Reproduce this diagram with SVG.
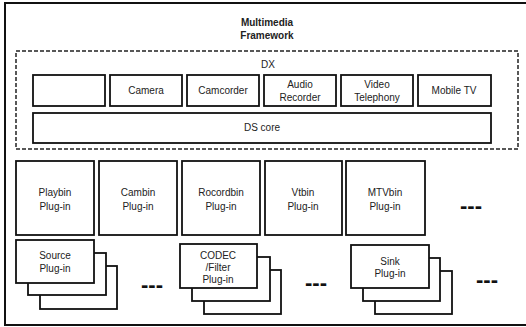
<svg xmlns="http://www.w3.org/2000/svg" width="526" height="327" viewBox="0 0 526 327">
  <style>
    .box { fill: #fff; stroke: #111; stroke-width: 1.8; }
    .frame { fill: none; stroke: #111; stroke-width: 2; }
    .dash { fill: none; stroke: #222; stroke-width: 1.5; stroke-dasharray: 4 2; }
    text { font-family: "Liberation Sans", Arial, sans-serif; font-size: 10px; fill: #222; text-anchor: middle; }
    .title { font-weight: bold; }
    .more { font-weight: bold; font-size: 22px; fill: #111; }
  </style>

  <!-- outer framework border (open on the right) -->
  <path class="frame" d="M526 3 H5 V325 H526"/>

  <g id="title">
    <text class="title" x="267" y="26">Multimedia</text>
    <text class="title" x="267" y="39">Framework</text>
  </g>

  <!-- DX layer -->
  <g id="dx">
    <rect class="dash" x="16" y="51" width="502" height="98"/>
    <text x="268" y="68">DX</text>
  </g>

  <g id="dx-blank"><rect class="box" x="33" y="75" width="72" height="31"/></g>
  <g id="dx-camera"><rect class="box" x="110" y="75" width="72" height="31"/><text x="146" y="94">Camera</text></g>
  <g id="dx-camcorder"><rect class="box" x="187" y="75" width="72" height="31"/><text x="223" y="94">Camcorder</text></g>
  <g id="dx-audio"><rect class="box" x="264" y="75" width="72" height="31"/><text x="300" y="88">Audio</text><text x="300" y="101">Recorder</text></g>
  <g id="dx-video"><rect class="box" x="341" y="75" width="72" height="31"/><text x="377" y="88">Video</text><text x="377" y="101">Telephony</text></g>
  <g id="dx-mobiletv"><rect class="box" x="418" y="75" width="73" height="31"/><text x="454" y="94">Mobile TV</text></g>
  <g id="ds-core"><rect class="box" x="33" y="113" width="458" height="30"/><text x="262" y="131">DS core</text></g>

  <!-- bin plug-ins -->
  <g id="playbin"><rect class="box" x="16" y="161" width="78" height="74"/><text x="55" y="196">Playbin</text><text x="55" y="210">Plug-in</text></g>
  <g id="cambin"><rect class="box" x="99" y="161" width="78" height="74"/><text x="138" y="196">Cambin</text><text x="138" y="210">Plug-in</text></g>
  <g id="rocordbin"><rect class="box" x="182" y="161" width="78" height="74"/><text x="221" y="196">Rocordbin</text><text x="221" y="210">Plug-in</text></g>
  <g id="vtbin"><rect class="box" x="265" y="161" width="77" height="74"/><text x="303" y="196">Vtbin</text><text x="303" y="210">Plug-in</text></g>
  <g id="mtvbin"><rect class="box" x="346" y="161" width="79" height="74"/><text x="385" y="196">MTVbin</text><text x="385" y="210">Plug-in</text></g>
  <text class="more" x="471" y="213">---</text>

  <!-- stacked element plug-ins -->
  <g id="source">
    <rect class="box" x="40" y="266" width="77" height="43"/>
    <rect class="box" x="28" y="253" width="78" height="42"/>
    <rect class="box" x="16" y="240" width="78" height="43"/>
    <text x="55" y="259">Source</text><text x="55" y="272">Plug-in</text>
  </g>
  <text class="more" x="152" y="292">---</text>

  <g id="codec">
    <rect class="box" x="204" y="270" width="77" height="44"/>
    <rect class="box" x="192" y="257" width="78" height="44"/>
    <rect class="box" x="180" y="244" width="77" height="44"/>
    <text x="218" y="259">CODEC</text><text x="218" y="271">/Filter</text><text x="218" y="283">Plug-in</text>
  </g>
  <text class="more" x="316" y="290">---</text>

  <g id="sink">
    <rect class="box" x="375" y="271" width="77" height="43"/>
    <rect class="box" x="363" y="258" width="77" height="43"/>
    <rect class="box" x="351" y="245" width="78" height="43"/>
    <text x="390" y="265">Sink</text><text x="390" y="277">Plug-in</text>
  </g>
  <text class="more" x="487" y="287">---</text>
</svg>
